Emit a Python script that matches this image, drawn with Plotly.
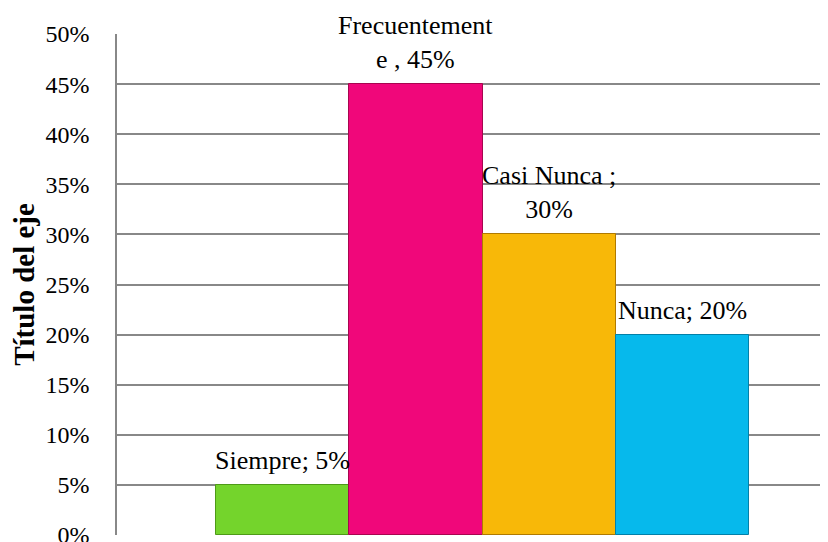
import plotly.graph_objects as go

categories = ["Siempre", "Frecuentemente", "Casi Nunca", "Nunca"]
values = [0.05, 0.45, 0.30, 0.20]
label_texts = ["Siempre; 5%", "Frecuentement<br>e , 45%", "Casi Nunca ;<br>30%", "Nunca; 20%"]
bar_colors = ["#74d42c", "#f0077a", "#f8b808", "#06b9ec"]
edge_colors = ["#4e9a18", "#a8054f", "#b07a00", "#0380a8"]
tick_vals = [0, 0.05, 0.10, 0.15, 0.20, 0.25, 0.30, 0.35, 0.40, 0.45, 0.50]
tick_text = ["0%", "5%", "10%", "15%", "20%", "25%", "30%", "35%", "40%", "45%", "50%"]

FONT = "Liberation Serif"

fig = go.Figure()
fig.add_trace(go.Bar(
    x=categories,
    y=values,
    width=1,
    marker=dict(color=bar_colors, line=dict(color=edge_colors, width=1)),
    hoverinfo="skip",
))

for cat, val, txt in zip(categories, values, label_texts):
    fig.add_annotation(
        x=cat, y=val, text=txt, showarrow=False,
        xanchor="center", yanchor="bottom", yshift=8,
        font=dict(family=FONT, size=26, color="#000000"),
        align="center",
    )

# page body has an 8px margin; offsets compensate
fig.update_layout(
    width=828, height=542,
    margin=dict(l=109, r=0, t=26, b=15, autoexpand=False),
    paper_bgcolor="white", plot_bgcolor="white",
    showlegend=False,
    bargap=0,
    font=dict(family=FONT, size=24, color="#000000"),
)
fig.update_xaxes(
    range=[-1.244, 4.153],
    showticklabels=False, showgrid=False, zeroline=False,
    showline=False, ticks="",
)
fig.update_yaxes(
    range=[0, 0.5],
    tickvals=tick_vals, ticktext=tick_text,
    showgrid=True, gridcolor="#888888", gridwidth=1.5,
    showline=True, linecolor="#888888", linewidth=1.5,
    zeroline=False, ticks="",
    ticklabelstandoff=21,
    tickfont=dict(family=FONT, size=24, color="#000000"),
    title=dict(text="<b>Título del eje</b>", standoff=10,
               font=dict(family=FONT, size=29, color="#000000")),
    automargin=False,
)

fig.write_html("out.html")
